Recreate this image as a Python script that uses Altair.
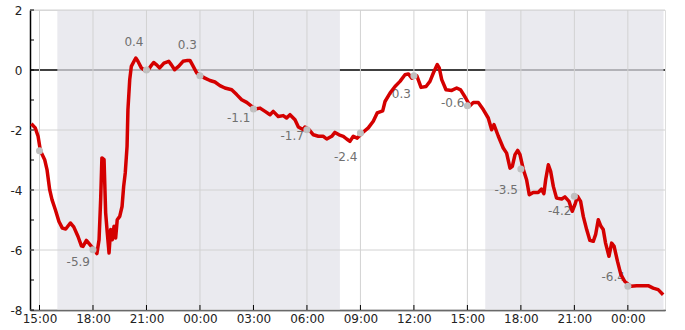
import altair as alt
import pandas as pd

BASE = pd.Timestamp("2024-01-10 15:00")

# series: hours after BASE, values
t_hours = [-0.46, -0.24, -0.08, 0.05, 0.29, 0.42, 0.57, 0.70, 0.89, 1.09, 1.28, 1.47, 1.73, 1.92, 2.16,
           2.35, 2.44, 2.63, 2.91, 3.09, 3.22, 3.34, 3.43, 3.50, 3.62, 3.71, 3.80, 3.90, 3.99, 4.08,
           4.18, 4.27, 4.36, 4.50, 4.63, 4.72, 4.81, 4.91, 4.96, 5.06, 5.15, 5.30, 5.40, 5.52, 5.71,
           5.90, 6.09, 6.23, 6.40, 6.55, 6.74, 6.98, 7.25, 7.39, 7.58, 7.80, 8.05, 8.30, 8.44, 8.57,
           8.82, 9.04, 9.28, 9.56, 9.84, 10.12, 10.40, 10.78, 11.06, 11.34, 11.62, 12.09, 12.37, 12.65, 12.93,
           13.11, 13.39, 13.67, 13.86, 14.05, 14.33, 14.52, 14.80, 14.89, 15.12, 15.36, 15.64, 15.92, 16.11, 16.39,
           16.57, 16.80, 17.04, 17.23, 17.41, 17.60, 17.82, 18.10, 18.44, 18.72, 18.94, 19.25, 19.38, 19.66, 19.94,
           20.22, 20.50, 20.69, 20.88, 21.16, 21.40, 21.68, 21.90, 22.09, 22.31, 22.42, 22.56, 22.80, 23.12, 23.40,
           23.62, 23.87, 24.14, 24.33, 24.61, 24.89, 25.17, 25.36, 25.49, 25.73, 26.01, 26.20, 26.39, 26.52, 26.67,
           26.82, 26.95, 27.13, 27.32, 27.47, 27.69, 27.97, 28.16, 28.29, 28.39, 28.54, 28.67, 28.82, 29.00, 29.29,
           29.47, 29.70, 29.88, 30.03, 30.18, 30.35, 30.50, 30.69, 30.87, 31.06, 31.19, 31.34, 31.49, 31.62, 31.75,
           31.94, 32.09, 32.23, 32.42, 32.61, 32.83, 33.17, 33.49, 34.14, 34.42, 34.70, 34.98]
values = [-1.79, -1.93, -2.21, -2.69, -2.99, -3.32, -3.99, -4.32, -4.66, -5.05, -5.27, -5.30, -5.10, -5.23, -5.55,
          -5.86, -5.88, -5.68, -5.88, -5.99, -6.12, -5.66, -4.32, -2.93, -2.99, -4.76, -5.42, -6.10, -5.32, -5.66,
          -5.21, -5.60, -4.99, -4.88, -4.55, -3.88, -3.43, -2.55, -1.32, -0.32, 0.12, 0.29, 0.40, 0.29, 0.07,
          -0.01, 0.00, 0.12, 0.25, 0.18, 0.07, 0.23, 0.29, 0.18, 0.01, 0.12, 0.29, 0.32, 0.32, 0.18,
          -0.10, -0.19, -0.27, -0.35, -0.40, -0.52, -0.60, -0.66, -0.82, -0.99, -1.08, -1.30, -1.27, -1.38, -1.49,
          -1.38, -1.55, -1.52, -1.60, -1.49, -1.66, -1.90, -1.99, -1.90, -1.99, -2.16, -2.21, -2.21, -2.30, -2.21,
          -2.08, -2.16, -2.21, -2.30, -2.38, -2.21, -2.27, -2.10, -1.93, -1.71, -1.43, -1.36, -1.05, -0.77, -0.55,
          -0.38, -0.16, -0.13, -0.27, -0.19, -0.58, -0.55, -0.38, -0.10, 0.18, 0.07, -0.32, -0.66, -0.68, -0.60,
          -0.66, -0.90, -1.19, -1.08, -1.08, -1.32, -1.60, -1.99, -1.82, -2.20, -2.60, -2.77, -3.27, -3.21, -2.82,
          -2.68, -2.82, -3.30, -3.66, -4.16, -4.08, -4.08, -3.97, -4.12, -3.66, -3.16, -3.38, -3.88, -4.27, -4.30,
          -4.23, -4.38, -4.71, -4.49, -4.21, -4.38, -4.88, -5.32, -5.68, -5.71, -5.49, -4.99, -5.21, -5.32, -5.77,
          -6.21, -5.77, -5.88, -6.38, -6.82, -7.05, -7.21, -7.19, -7.19, -7.27, -7.32, -7.49]
assert len(t_hours) == len(values)

dot_hours = [0, 3, 6, 9, 12, 15, 18, 21, 24, 27, 30, 33]
dot_values = [-2.69, -5.99, 0.0, -0.19, -1.30, -1.99, -2.10, -0.19, -1.19, -3.30, -4.21, -7.21]

label_hours = [3, 6, 9, 12, 15, 18, 21, 24, 27, 30, 33]
label_values = [-5.9, 0.4, 0.3, -1.1, -1.7, -2.4, -0.3, -0.6, -3.5, -4.2, -6.4]

night_start_hours = [1.0, 25.0]
night_end_hours = [16.85, 35.0]

x_tick_hours = [0, 3, 6, 9, 12, 15, 18, 21, 24, 27, 30, 33]
y_ticks = list(range(-8, 3))
y_grid = [-8, -6, -4, -2, 2]
y_labels = [-8, -6, -4, -2, 0, 2]


def ts(h):
    return (BASE + pd.Timedelta(hours=h)).strftime("%Y-%m-%dT%H:%M:%S")


def dt(h):
    t = BASE + pd.Timedelta(hours=h)
    return alt.DateTime(year=t.year, month=t.month, date=t.day, hours=t.hour, minutes=t.minute)


line_df = pd.DataFrame({"t": [ts(h) for h in t_hours], "v": values})
dot_df = pd.DataFrame({"t": [ts(h) for h in dot_hours], "v": dot_values})
label_df = pd.DataFrame({"t": [ts(h) for h in label_hours], "v": label_values})
band_df = pd.DataFrame({"s": [ts(h) for h in night_start_hours], "e": [ts(h) for h in night_end_hours]})
xt_df = pd.DataFrame({"tt": [ts(h) for h in x_tick_hours]})
yt_df = pd.DataFrame({"vt": y_ticks})
yg_df = pd.DataFrame({"vg": y_grid})

W, H = 635, 300
FONT = "DejaVu Sans"

xs = alt.Scale(domain=[dt(-32 / 60), dt(35 + 5 / 60)])
ys = alt.Scale(domain=[-8, 2], nice=False, zero=False)

x_axis = alt.Axis(values=[dt(h) for h in x_tick_hours], format="%H:%M", grid=False, ticks=False,
                  domainColor="black", domainWidth=1.5, labelFont=FONT, labelFontSize=12,
                  labelColor="#222", labelPadding=3, title=None)
y_axis = alt.Axis(values=y_labels, grid=False, ticks=False, domainColor="black",
                  domainWidth=1.5, labelFont=FONT, labelFontSize=12, labelColor="#222",
                  labelPadding=8, title=None, labelExpr="toString(datum.value)")


def X(f):
    return alt.X(f, scale=xs, axis=x_axis, title=None)


def Y(f):
    return alt.Y(f, scale=ys, axis=y_axis, title=None)


zero_line = alt.Chart(pd.DataFrame({"z": [0]})).mark_rule(color="black", strokeWidth=1.3).encode(
    y=Y("z:Q")
)

band = alt.Chart(band_df).mark_rect(color="#e1e1e9", opacity=0.71).encode(
    x=X("s:T"), x2="e:T"
)

ygrid = alt.Chart(yg_df).mark_rule(color="#d2d2d2", strokeWidth=1).encode(y=Y("vg:Q"))
xgrid = alt.Chart(xt_df).mark_rule(color="#d2d2d2", strokeWidth=1).encode(x=X("tt:T"))

yticks = alt.Chart(yt_df).mark_rule(color="black", strokeWidth=1).encode(
    y=Y("vt:Q"), x=alt.value(0), x2=alt.value(4)
)
xticks = alt.Chart(xt_df).mark_rule(color="black", strokeWidth=1).encode(
    x=X("tt:T"), y=alt.value(H - 5), y2=alt.value(H)
)

lab_below = alt.Chart(label_df).transform_filter("datum.v <= 0").transform_calculate(
    lab="toString(datum.v)"
).mark_text(
    align="right", baseline="middle", dx=-3, dy=15, color="#707070", font=FONT, fontSize=12
).encode(x=X("t:T"), y=Y("v:Q"), text="lab:N")
lab_above = alt.Chart(label_df).transform_filter("datum.v > 0").transform_calculate(
    lab="toString(datum.v)"
).mark_text(
    align="right", baseline="middle", dx=-3, dy=-16, color="#707070", font=FONT, fontSize=12
).encode(x=X("t:T"), y=Y("v:Q"), text="lab:N")

line = alt.Chart(line_df).mark_line(color="#d40000", strokeWidth=3.5, strokeJoin="round").encode(
    x=X("t:T"), y=Y("v:Q")
)

dots = alt.Chart(dot_df).mark_circle(color="#c0c0c0", size=50, opacity=1).encode(
    x=X("t:T"), y=Y("v:Q")
)

chart = alt.layer(
    zero_line, band, ygrid, xgrid, lab_below, lab_above, line, dots, yticks, xticks
).properties(
    width=W, height=H,
    autosize=alt.AutoSizeParams(type="none"),
    padding={"left": 30, "top": 10, "right": 20, "bottom": 20},
).configure_view(stroke=None).configure(background="white")

chart.save("out.html", embed_options={"renderer": "svg", "actions": False})
